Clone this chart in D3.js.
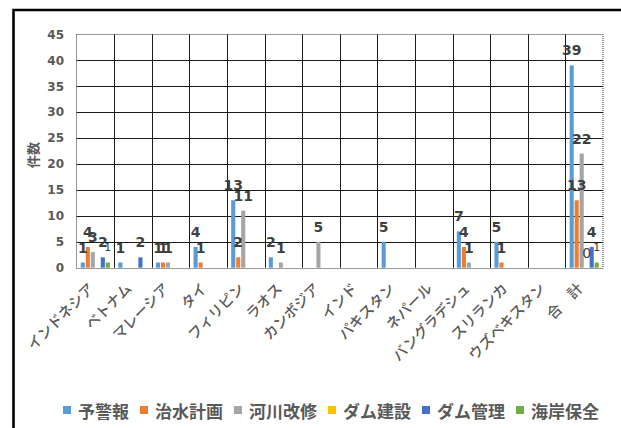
<!DOCTYPE html>
<html>
<head>
<meta charset="utf-8">
<script src="https://cdn.jsdelivr.net/npm/d3@7"></script>
<style>
  html, body { margin: 0; padding: 0; background: #fff; }
  svg { display: block; }
</style>
</head>
<body>
<svg id="chart" width="621" height="428"></svg>
<script>
// Categories (countries + total)
const categories = ["インドネシア", "ベトナム", "マレーシア", "タイ", "フィリピン", "ラオス",
  "カンボジア", "インド", "パキスタン", "ネパール", "バングラデシュ", "スリランカ",
  "ウズベキスタン", "合　計"];

const seriesNames = ["予警報", "治水計画", "河川改修", "ダム建設", "ダム管理", "海岸保全"];
const seriesColors = ["#5B9BD5", "#ED7D31", "#A5A5A5", "#FFC000", "#4472C4", "#70AD47"];

// Counts per series (null = no entry)
const yokeiho   = [1, 1, 1, 4, 13, 2, null, null, 5, null, 7, 5, null, 39];
const chisui    = [4, null, 1, 1, 2, null, null, null, null, null, 4, 1, null, 13];
const kasen     = [3, null, 1, null, 11, 1, 5, null, null, null, 1, null, null, 22];
const damKensetsu = [null, null, null, null, null, null, null, null, null, null, null, null, null, 0];
const damKanri  = [2, 2, null, null, null, null, null, null, null, null, null, null, null, 4];
const kaigan    = [1, null, null, null, null, null, null, null, null, null, null, null, null, 1];

const seriesValues = [yokeiho, chisui, kasen, damKensetsu, damKanri, kaigan];

const yTicks = [0, 5, 10, 15, 20, 25, 30, 35, 40, 45];

const svg = d3.select("#chart");

// Outer frame
svg.append("path")
  .attr("d", "M13.5,440V10H640")
  .attr("fill", "none")
  .attr("stroke", "#000")
  .attr("stroke-width", 2.6);

const plot = { left: 76.5, right: 603, top: 34.3, bottom: 267.7 };

const x0 = d3.scaleBand().domain(categories).range([plot.left, plot.right]).padding(0);
const x1 = d3.scaleBand().domain(seriesNames).range([0, x0.bandwidth()])
  .paddingInner(0.18).paddingOuter(0.85);
const y = d3.scaleLinear().domain([0, 45]).range([plot.bottom, plot.top]);

// Horizontal gridlines
svg.append("g")
  .selectAll("line")
  .data(yTicks.filter(t => t > 0 && t < 45))
  .join("line")
  .attr("x1", plot.left).attr("x2", plot.right)
  .attr("y1", d => Math.round(y(d)) + 0.5).attr("y2", d => Math.round(y(d)) + 0.5)
  .attr("stroke", "#1a1a1a").attr("stroke-width", 1);

// Vertical gridlines between categories
svg.append("g")
  .selectAll("line")
  .data(categories.slice(1))
  .join("line")
  .attr("x1", d => Math.round(x0(d)) + 0.5).attr("x2", d => Math.round(x0(d)) + 0.5)
  .attr("y1", plot.top).attr("y2", plot.bottom)
  .attr("stroke", "#1a1a1a").attr("stroke-width", 1);

// Dotted plot border
svg.append("rect")
  .attr("x", plot.left).attr("y", Math.round(plot.top) + 0.5)
  .attr("width", plot.right - plot.left).attr("height", Math.round(plot.bottom) - Math.round(plot.top))
  .attr("fill", "none")
  .attr("stroke", "#333")
  .attr("stroke-width", 1)
  .attr("stroke-dasharray", "1,1");

// Y axis tick labels
const yAxis = d3.axisLeft(y).tickValues(yTicks).tickSize(0).tickPadding(0);
const yg = svg.append("g").attr("transform", `translate(64,0)`).call(yAxis);
yg.select(".domain").remove();
yg.selectAll("text")
  .attr("font-family", "'DejaVu Sans', sans-serif")
  .attr("font-weight", "bold")
  .attr("font-size", 12)
  .attr("fill", "#595959");

// Y axis title
svg.append("text")
  .attr("transform", "translate(32,155) rotate(-90)")
  .attr("text-anchor", "middle")
  .attr("dominant-baseline", "central")
  .attr("font-family", "'Noto Sans CJK JP', sans-serif")
  .attr("font-weight", "bold")
  .attr("font-size", 13)
  .attr("fill", "#595959")
  .text("件数");

// Bars
const barData = [];
seriesNames.forEach((s, si) => {
  seriesValues[si].forEach((v, ci) => {
    if (v !== null) barData.push({ series: s, si, cat: categories[ci], value: v });
  });
});

svg.append("g")
  .selectAll("rect")
  .data(barData)
  .join("rect")
  .attr("x", d => x0(d.cat) + x1(d.series))
  .attr("y", d => y(d.value))
  .attr("width", x1.bandwidth())
  .attr("height", d => y(0) - y(d.value))
  .attr("fill", d => seriesColors[d.si]);

// Value labels
svg.append("g")
  .selectAll("text")
  .data(barData)
  .join("text")
  .attr("x", d => x0(d.cat) + x1(d.series) + x1.bandwidth() / 2)
  .attr("y", d => y(d.value) - 15)
  .attr("text-anchor", "middle")
  .attr("dominant-baseline", "central")
  .attr("font-family", "'DejaVu Sans', sans-serif")
  .attr("font-weight", d => d.si >= 3 && d.si !== 4 ? "normal" : "bold")
  .attr("font-size", d => d.si === 5 ? 11 : 14)
  .attr("fill", "#404040")
  .text(d => d.value);

// Category labels, rotated
svg.append("g")
  .selectAll("text")
  .data(categories)
  .join("text")
  .attr("transform", d => `translate(${x0(d) + x0.bandwidth() / 2 - 5},285) rotate(-45)`)
  .attr("text-anchor", "end")
  .attr("dominant-baseline", "central")
  .attr("font-family", "'Noto Sans CJK JP', sans-serif")
  .attr("font-weight", 500)
  .attr("font-size", 14.5)
  .attr("fill", "#595959")
  .text(d => d);

// Legend
const legend = svg.append("g").attr("transform", "translate(0,410)");
let lx = 63;
seriesNames.forEach((s, i) => {
  const g = legend.append("g").attr("transform", `translate(${lx},0)`);
  g.append("rect").attr("x", 0).attr("y", -4).attr("width", 8).attr("height", 8)
    .attr("fill", seriesColors[i]);
  const t = g.append("text")
    .attr("x", 15).attr("y", 0)
    .attr("dominant-baseline", "central")
    .attr("font-family", "'Noto Sans CJK JP', sans-serif")
    .attr("font-weight", "bold")
    .attr("font-size", 17)
    .attr("fill", "#595959")
    .text(s);
  lx += 15 + t.node().getComputedTextLength() + 11;
});
</script>
</body>
</html>
